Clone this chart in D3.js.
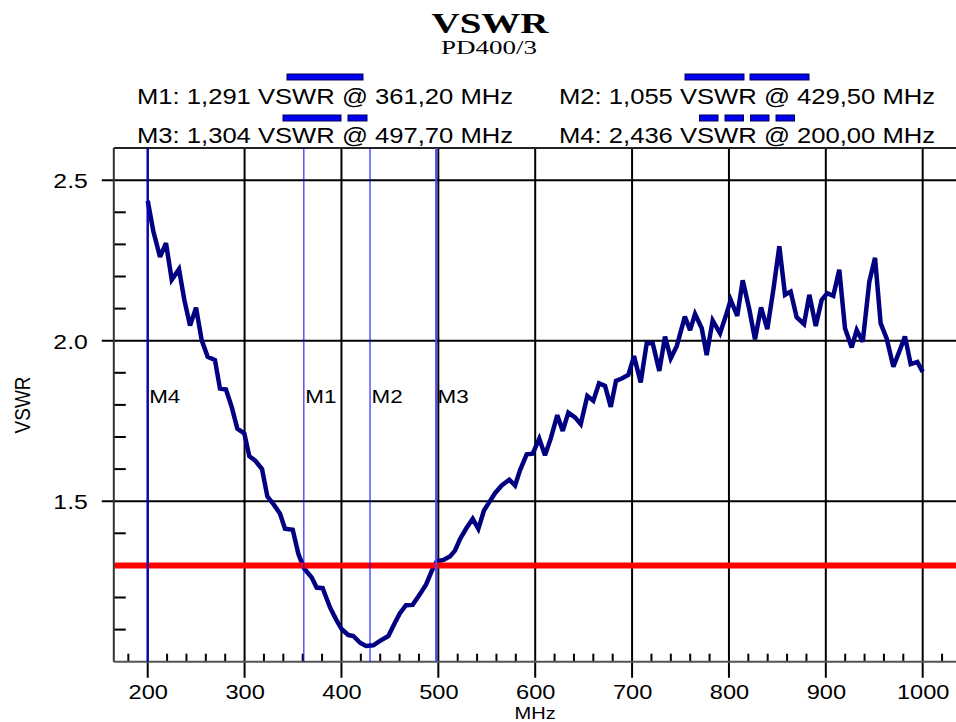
<!DOCTYPE html>
<html><head><meta charset="utf-8">
<script src="https://cdn.jsdelivr.net/npm/d3@7"></script>
<style>html,body{margin:0;padding:0;background:#fff;overflow:hidden}</style>
</head><body><svg id="chart" width="956" height="722"></svg>
<script>
// ---------- data ----------
const freqs = [200.0,205.8,212.7,218.9,224.8,232.3,237.8,243.7,249.9,255.7,261.9,269.4,274.6,280.8,286.7,292.5,299.7,304.9,310.8,318.0,323.5,330.0,336.6,341.7,349.7,355.5,361.3,369.3,374.4,380.6,388.2,394.4,400.3,407.1,412.3,419.2,425.3,432.9,439.8,448.4,455.3,460.4,466.6,473.5,481.1,487.3,493.2,498.3,505.2,512.0,517.2,522.4,528.6,535.5,541.3,547.1,552.6,558.5,565.4,573.3,579.2,584.3,591.2,597.4,604.2,610.1,616.0,622.8,628.4,634.2,641.1,647.0,653.8,660.0,665.9,672.1,678.0,683.4,689.3,696.1,702.0,708.9,715.1,721.3,728.1,734.0,739.9,746.1,754.5,759.9,765.0,771.9,777.0,783.2,790.8,796.5,801.8,808.6,814.2,821.0,826.9,833.1,839.6,845.8,852.0,857.9,863.7,869.9,877.5,883.0,889.6,895.7,901.5,907.7,913.9,919.8,926.7,931.9,938.1,944.9,950.8,956.6,962.8,969.7,975.8,981.7,987.6,994.5,1000.0];
const vswr = [2.436,2.341,2.261,2.304,2.190,2.223,2.127,2.047,2.103,2.002,1.950,1.940,1.851,1.848,1.794,1.726,1.711,1.640,1.627,1.600,1.515,1.490,1.461,1.414,1.411,1.336,1.291,1.262,1.231,1.229,1.169,1.132,1.101,1.083,1.080,1.059,1.049,1.051,1.065,1.080,1.122,1.151,1.176,1.177,1.211,1.240,1.283,1.312,1.317,1.328,1.346,1.382,1.414,1.445,1.414,1.471,1.497,1.525,1.549,1.567,1.549,1.596,1.646,1.648,1.695,1.643,1.695,1.768,1.719,1.776,1.761,1.740,1.828,1.813,1.867,1.859,1.794,1.875,1.882,1.893,1.952,1.870,1.992,1.992,1.906,2.013,1.945,1.983,2.075,2.033,2.083,2.039,1.955,2.063,2.023,2.075,2.127,2.077,2.188,2.098,2.004,2.104,2.036,2.158,2.294,2.143,2.153,2.073,2.052,2.143,2.046,2.127,2.148,2.140,2.221,2.039,1.979,2.033,1.997,2.184,2.258,2.054,2.007,1.919,1.966,2.013,1.927,1.934,1.903];
const markerNames = ["M1", "M2", "M3", "M4"];
const markerFreqs = [361.20, 429.50, 497.70, 200.00];
const markerVswr = [1.291, 1.055, 1.304, 2.436];
const xTickValues = [200, 300, 400, 500, 600, 700, 800, 900, 1000];
const yTickValues = [1.5, 2.0, 2.5];
const vswrLimit = 1.3;
const titleText = "VSWR";
const subtitleText = "PD400/3";
const xLabelText = "MHz";
const yLabelText = "VSWR";

// ---------- layout / style ----------
const SX = 1.18;                    // horizontal stretch of the original rendering
const SANS = "'Liberation Sans', Arial, sans-serif";
const SERIF = "'Liberation Serif', 'Times New Roman', serif";
const svg = d3.select("#chart");
const x = d3.scaleLinear().domain([165, 1035]).range([113.8, 956.6]);
const y = d3.scaleLinear().domain([1.0, 2.6]).range([661.7, 148.1]);
const L = x.range()[0], R = x.range()[1], T = y.range()[1], B = y.range()[0];

function stext(g, px, py, str, size, anchor, family, weight) {
  return g.append("text")
    .attr("transform", `translate(${px},${py}) scale(${SX},1)`)
    .attr("text-anchor", anchor || "middle")
    .attr("font-family", family || SANS)
    .attr("font-weight", weight || "normal")
    .attr("font-size", size)
    .attr("fill", "#000")
    .text(str);
}

// titles
svg.append("text").attr("x", 490).attr("y", 33).attr("text-anchor", "middle")
  .attr("font-family", SERIF).attr("font-weight", "bold").attr("font-size", 30)
  .attr("textLength", 117).attr("lengthAdjust", "spacingAndGlyphs").text(titleText);
svg.append("text").attr("x", 489).attr("y", 54).attr("text-anchor", "middle")
  .attr("font-family", SERIF).attr("font-size", 18)
  .attr("textLength", 96).attr("lengthAdjust", "spacingAndGlyphs").text(subtitleText);

// legend
const comma = v => v.replace(".", ",");
const legendPos = {M1: [325, 0], M2: [747, 0], M3: [325, 1], M4: [747, 1]};
const legendDash = {M1: [76], M2: [59, 6, 59], M3: [58, 7, 19], M4: [18.5, 7, 18.5, 7, 18.5, 7, 18.5]};
const rowBar = [77, 118], rowText = [103.5, 142.5];
markerNames.forEach((name, i) => {
  const [cx, row] = legendPos[name];
  const pat = legendDash[name];
  const total = d3.sum(pat);
  let pos = cx - total / 2;
  pat.forEach((len, k) => {
    if (k % 2 === 0) {
      svg.append("rect").attr("x", pos).attr("y", rowBar[row] - 3).attr("width", len).attr("height", 6)
        .attr("fill", "#0000ee").attr("stroke", "#000060").attr("stroke-width", 1);
    }
    pos += len;
  });
  const label = `${name}: ${comma(d3.format(".3f")(markerVswr[i]))} VSWR @ ${comma(d3.format(".2f")(markerFreqs[i]))} MHz`;
  svg.append("text").attr("x", cx).attr("y", rowText[row]).attr("text-anchor", "middle")
    .attr("font-family", SANS).attr("font-size", 22)
    .attr("textLength", 376).attr("lengthAdjust", "spacingAndGlyphs").text(label);
});

// grid
const grid = svg.append("g").attr("stroke", "#000").attr("stroke-width", 2);
xTickValues.forEach(v => grid.append("line").attr("x1", x(v)).attr("x2", x(v)).attr("y1", T).attr("y2", B + 16));
yTickValues.forEach(v => grid.append("line").attr("x1", L - 12).attr("x2", R).attr("y1", y(v)).attr("y2", y(v)));

// minor ticks
const yMinor = y.ticks(16).filter(v => v > 1.0 && v < 2.6 && Math.abs(v * 2 - Math.round(v * 2)) > 1e-6);
yMinor.forEach(v => grid.append("line").attr("x1", L).attr("x2", L + 12).attr("y1", y(v)).attr("y2", y(v)));
const xMinor = d3.range(180, 1035, 20).filter(v => v % 100 !== 0);
xMinor.forEach(v => grid.append("line").attr("x1", x(v)).attr("x2", x(v)).attr("y1", B - 8).attr("y2", B));

// borders
svg.append("line").attr("x1", L).attr("x2", R).attr("y1", T).attr("y2", T).attr("stroke", "#222").attr("stroke-width", 2);
svg.append("line").attr("x1", L).attr("x2", L).attr("y1", T).attr("y2", B).attr("stroke", "#333").attr("stroke-width", 2);
svg.append("line").attr("x1", L).attr("x2", R).attr("y1", B).attr("y2", B).attr("stroke", "#555").attr("stroke-width", 2);

// axis tick labels
const xAxis = d3.axisBottom(x).tickValues(xTickValues).tickSize(0).tickFormat(d3.format("d"));
const gx = svg.append("g").attr("transform", `translate(0,${B})`).call(xAxis);
gx.select(".domain").remove();
gx.selectAll("text").attr("y", 0).attr("dy", 0)
  .attr("transform", `translate(0,37.5) scale(${SX},1)`)
  .attr("font-family", SANS).attr("font-size", 20).attr("fill", "#000");
const yAxis = d3.axisLeft(y).tickValues(yTickValues).tickSize(0).tickFormat(d3.format(".1f"));
const gy = svg.append("g").attr("transform", `translate(${L},0)`).call(yAxis);
gy.select(".domain").remove();
gy.selectAll("text").attr("x", 0).attr("dy", "0.36em")
  .attr("transform", `translate(-26,0) scale(${SX},1)`)
  .attr("font-family", SANS).attr("font-size", 21).attr("fill", "#000");

// axis titles
stext(svg, (L + R) / 2, 719, xLabelText, 17);
svg.append("text").attr("transform", `translate(22,${(T + B) / 2}) scale(${SX},1) rotate(-90)`)
  .attr("text-anchor", "middle").attr("dy", "0.36em")
  .attr("font-family", SANS).attr("font-size", 19).text(yLabelText);

// curve
const line = d3.line().x((d, i) => x(freqs[i])).y(d => y(d));
svg.append("path").datum(vswr).attr("d", line).attr("fill", "none")
  .attr("stroke", "#000080").attr("stroke-width", 4.5)
  .attr("stroke-linejoin", "miter").attr("stroke-miterlimit", 3);

// limit line
svg.append("line").attr("x1", L + 1).attr("x2", R).attr("y1", y(vswrLimit)).attr("y2", y(vswrLimit))
  .attr("stroke", "#ff0000").attr("stroke-width", 6);

// marker lines and labels
const markerStyle = {M1: ["#0000ff", 1], M2: ["#0000ff", 1], M3: ["#4a4aff", 2], M4: ["#0000d0", 2]};
markerNames.forEach((name, i) => {
  const mx = x(markerFreqs[i]);
  svg.append("line").attr("x1", mx).attr("x2", mx).attr("y1", T).attr("y2", B)
    .attr("stroke", markerStyle[name][0]).attr("stroke-width", markerStyle[name][1]);
  stext(svg, mx + 1.5, 403, name, 19, "start");
});
</script></body></html>
